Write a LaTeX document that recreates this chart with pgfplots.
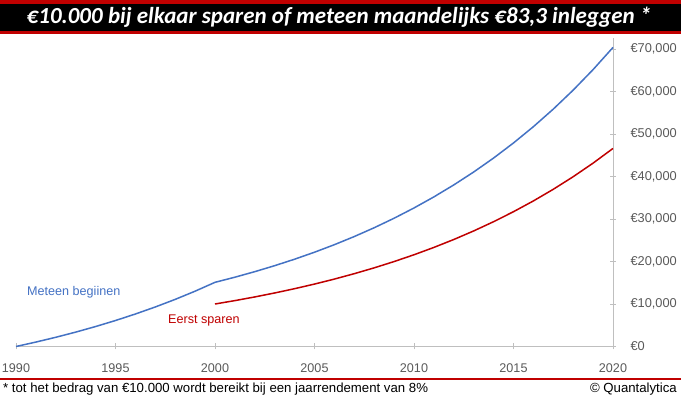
\documentclass[border=0pt]{standalone}
\usepackage{fontspec}
\setmainfont{Liberation Sans}
\newfontfamily\titlefont{Carlito}
\usepackage{pgfplots}
\pgfplotsset{compat=1.18}
\definecolor{bl}{RGB}{68,114,196}
\definecolor{rd}{RGB}{192,0,0}
\definecolor{ax}{RGB}{191,191,191}
\definecolor{tl}{RGB}{89,89,89}
\begin{document}
\begin{tikzpicture}[x=1pt,y=1pt]
\useasboundingbox (0,0) rectangle (681,399);
\fill[white] (0,0) rectangle (681,399);
\fill[rd] (0,395) rectangle (681,398.5);
\fill[black] (0,368) rectangle (681,395);
\fill[rd] (0,365) rectangle (681,368);
\node[text=white, inner sep=0, font=\titlefont\bfseries\itshape\fontsize{23}{27}\selectfont] at (339,381.5) {€10.000 bij elkaar sparen of meteen maandelijks €83,3 inleggen *};
\begin{axis}[
  at={(16pt,52.5pt)}, anchor=south west,
  scale only axis, width=597pt, height=308.5pt,
  xmin=1990, xmax=2020, ymin=0, ymax=72600,
  axis x line=bottom, axis y line=right,
  axis line style={-, draw=ax, line width=0.8pt},
  every outer x axis line/.append style={-},
  every outer y axis line/.append style={-},
  xtick={1990,1995,2000,2005,2010,2015,2020},
  xticklabels={1990,1995,2000,2005,2010,2015,2020},
  ytick={0,10000,20000,30000,40000,50000,60000,70000},
  yticklabels={€0,{€10,000},{€20,000},{€30,000},{€40,000},{€50,000},{€60,000},{€70,000}},
  scaled y ticks=false,
  tick style={draw=ax, line width=0.8pt},
  tick align=center, major tick length=6pt,
  xticklabel style={anchor=base, yshift=-23.5pt, text=tl, font=\fontsize{12.6}{14}\selectfont},
  yticklabel style={anchor=west, xshift=11pt, text=tl, font=\fontsize{12.8}{14}\selectfont},
  clip=false,
]
\addplot[bl, line width=1.5pt] coordinates {
(1990,0) (1991,1043) (1992,2168) (1993,3385) (1994,4697) (1995,6115) (1996,7647)
(1997,9301) (1998,11088) (1999,13017) (2000,15100) (2001,16308) (2002,17613)
(2003,19022) (2004,20544) (2005,22187) (2006,23961) (2007,25879) (2008,27949)
(2009,30185) (2010,32600) (2011,35208) (2012,38025) (2013,41067) (2014,44352)
(2015,47901) (2016,51732) (2017,55871) (2018,60341) (2019,65168) (2020,70382)};
\addplot[rd, line width=1.5pt] coordinates {
(2000,10000) (2001,10800) (2002,11664) (2003,12597) (2004,13605) (2005,14693)
(2006,15869) (2007,17138) (2008,18509) (2009,19990) (2010,21589) (2011,23316)
(2012,25182) (2013,27196) (2014,29372) (2015,31722) (2016,34259) (2017,37000)
(2018,39960) (2019,43157) (2020,46610)};
\end{axis}
\node[anchor=base west, inner sep=0, text=bl, font=\fontsize{12.6}{14}\selectfont] at (27,103) {Meteen begiinen};
\node[anchor=base west, inner sep=0, text=rd, font=\fontsize{12.6}{14}\selectfont] at (168,75) {Eerst sparen};
\fill[rd] (0,19) rectangle (681,21);
\node[anchor=base west, inner sep=0, font=\fontsize{13.2}{15}\selectfont] at (3,6) {* tot het bedrag van €10.000 wordt bereikt bij een jaarrendement van 8\%};
\node[anchor=base east, inner sep=0, font=\fontsize{13.2}{15}\selectfont] at (677,6) {© Quantalytica};
\end{tikzpicture}
\end{document}
